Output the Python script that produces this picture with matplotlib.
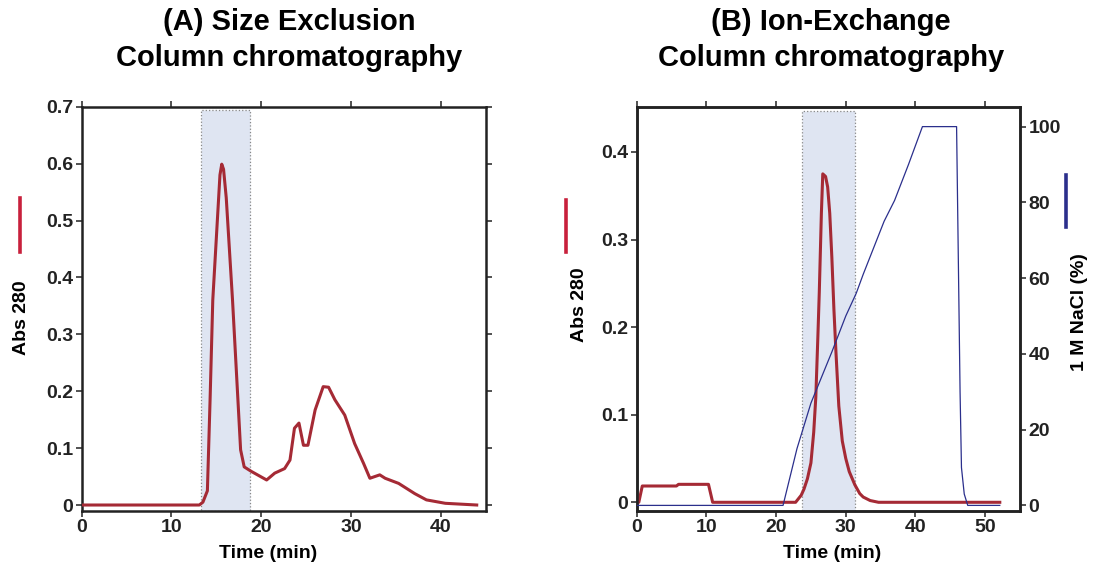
import matplotlib
matplotlib.use('Agg')
import matplotlib.pyplot as plt
from matplotlib.lines import Line2D

plt.rcParams['font.family'] = ['Liberation Sans', 'DejaVu Sans']
plt.rcParams['font.weight'] = 'bold'
plt.rcParams['axes.labelweight'] = 'bold'

# (A) size exclusion trace
sec_time = [0, 13.1, 13.5, 14.0, 14.3, 14.6, 15.0, 15.4, 15.6, 15.8, 16.1, 16.8,
            17.4, 17.7, 18.1, 18.9, 20.6, 21.5, 22.6, 23.2, 23.7, 24.2, 24.7,
            25.2, 26.0, 26.9, 27.5, 28.2, 29.3, 30.4, 31.4, 32.1, 33.2, 33.8,
            35.3, 37.1, 38.4, 40.5, 44.0]
sec_abs = [0, 0, 0.005, 0.025, 0.185, 0.36, 0.47, 0.58, 0.599, 0.59, 0.54, 0.36,
           0.185, 0.097, 0.067, 0.059, 0.044, 0.056, 0.064, 0.079, 0.135, 0.144,
           0.105, 0.105, 0.167, 0.208, 0.207, 0.185, 0.158, 0.108, 0.073, 0.047,
           0.053, 0.047, 0.038, 0.02, 0.009, 0.003, 0.0]
sec_pool = (13.3, 18.75)

# (B) ion exchange traces
iex_time = [0, 0.3, 0.8, 5.7, 6.0, 10.3, 10.9, 22.8, 23.6, 24.0, 24.5, 25.0,
            25.4, 25.7, 26.0, 26.2, 26.5, 26.7, 27.1, 27.4, 27.7, 28.0, 28.3,
            28.6, 29.0, 29.5, 30.0, 30.5, 31.3, 32.0, 32.5, 33.5, 34.7, 52.1]
iex_abs = [0, 0, 0.0186, 0.0186, 0.0205, 0.0205, 0, 0, 0.008, 0.015, 0.027, 0.045,
           0.08, 0.12, 0.19, 0.24, 0.33, 0.375, 0.372, 0.36, 0.33, 0.28, 0.22,
           0.17, 0.11, 0.07, 0.05, 0.035, 0.02, 0.01, 0.006, 0.002, 0, 0]
nacl_time = [0, 21.0, 23.0, 25.0, 28.0, 30.0, 31.5, 32.5, 34.0, 35.5, 37.0, 39.0,
             41.0, 45.9, 46.1, 46.4, 46.6, 47.0, 47.5, 52.1]
nacl_pct = [0, 0, 15.0, 27.0, 40.5, 50.0, 56.0, 61.0, 68.0, 75.0, 80.5, 90.0,
            100, 100, 72, 30, 10, 3, 0, 0]
iex_pool = (23.7, 31.3)

red = '#a52a35'
bar_red = '#c8203c'
blue = '#2b2f8c'
shade = '#dfe5f2'
spine_c = '#222222'

W, H = 1093, 571
fig = plt.figure(figsize=(W / 100, H / 100), dpi=100)

def px_rect(l, r, t, b):
    return [l / W, 1 - b / H, (r - l) / W, (b - t) / H]

def style(ax):
    for s in ax.spines.values():
        s.set_linewidth(1.8)
        s.set_color(spine_c)
    ax.tick_params(direction='out', length=4, width=1.1, labelsize=14,
                   colors=spine_c, pad=2)

def pool(ax, lo, hi):
    ax.axvspan(lo, hi, ymin=0, ymax=0.992, facecolor=shade, edgecolor='#888888',
               linestyle=':', linewidth=0.9, zorder=0)

# ---- panel A
ax1 = fig.add_axes(px_rect(81.7, 485.7, 106.7, 510.7))
style(ax1)
pool(ax1, *sec_pool)
ax1.plot(sec_time, sec_abs, color=red, lw=2.2, zorder=3)
ax1.set_xlim(0, 45)
ax1.set_ylim(-0.01, 0.7)
ax1.set_xticks([0, 10, 20, 30, 40])
ax1.set_yticks([0, 0.1, 0.2, 0.3, 0.4, 0.5, 0.6, 0.7])
ax1.set_yticklabels(['0', '0.1', '0.2', '0.3', '0.4', '0.5', '0.6', '0.7'])
ax1.tick_params(top=True, right=True)
ax1.set_xlabel('Time (min)', fontsize=14)
ax1.xaxis.set_label_coords((268 - 81.7) / 404, -(553 - 510.7) / 404)
ax1.xaxis.label.set_va('center')

# ---- panel B
ax2 = fig.add_axes(px_rect(636.7, 1020, 107.3, 510.7))
style(ax2)
pool(ax2, *iex_pool)
ax2.plot(iex_time, iex_abs, color=red, lw=2.2, zorder=3)
ax2.set_xlim(0, 55)
ax2.set_ylim(-0.0096, 0.451)
ax2.set_xticks([0, 10, 20, 30, 40, 50])
ax2.set_yticks([0, 0.1, 0.2, 0.3, 0.4])
ax2.set_yticklabels(['0', '0.1', '0.2', '0.3', '0.4'])
ax2.tick_params(top=True)
ax2.set_xlabel('Time (min)', fontsize=14)
ax2.xaxis.set_label_coords((832 - 636.7) / 383.3, -(553 - 510.7) / 403.4)
ax2.xaxis.label.set_va('center')

ax3 = ax2.twinx()
style(ax3)
ax3.plot(nacl_time, nacl_pct, color=blue, lw=0.9, zorder=4)
ax3.set_ylim(-1.4, 105.1)
ax3.set_yticks([0, 20, 40, 60, 80, 100])

# y labels and colour keys
fig.text(22 / W, 1 - 318 / H, 'Abs 280', rotation=90, ha='center', va='center', fontsize=14)
fig.text(580 / W, 1 - 305 / H, 'Abs 280', rotation=90, ha='center', va='center', fontsize=14)
fig.text(1080 / W, 1 - 312 / H, '1 M NaCl (%)', rotation=90, ha='center', va='center', fontsize=14)
for x, y0, y1, c in [(20, 198, 252, bar_red), (566, 200, 252, bar_red), (1066, 175, 227, blue)]:
    fig.add_artist(Line2D([x / W, x / W], [1 - y0 / H, 1 - y1 / H], color=c, lw=2.6,
                          transform=fig.transFigure))

# titles
fig.text(289 / W, 1 - 22 / H, '(A) Size Exclusion', ha='center', va='center', fontsize=21)
fig.text(289 / W, 1 - 58 / H, 'Column chromatography', ha='center', va='center', fontsize=21)
fig.text(831 / W, 1 - 22 / H, '(B) Ion-Exchange', ha='center', va='center', fontsize=21)
fig.text(831 / W, 1 - 58 / H, 'Column chromatography', ha='center', va='center', fontsize=21)

fig.savefig('out.png', dpi=100)
